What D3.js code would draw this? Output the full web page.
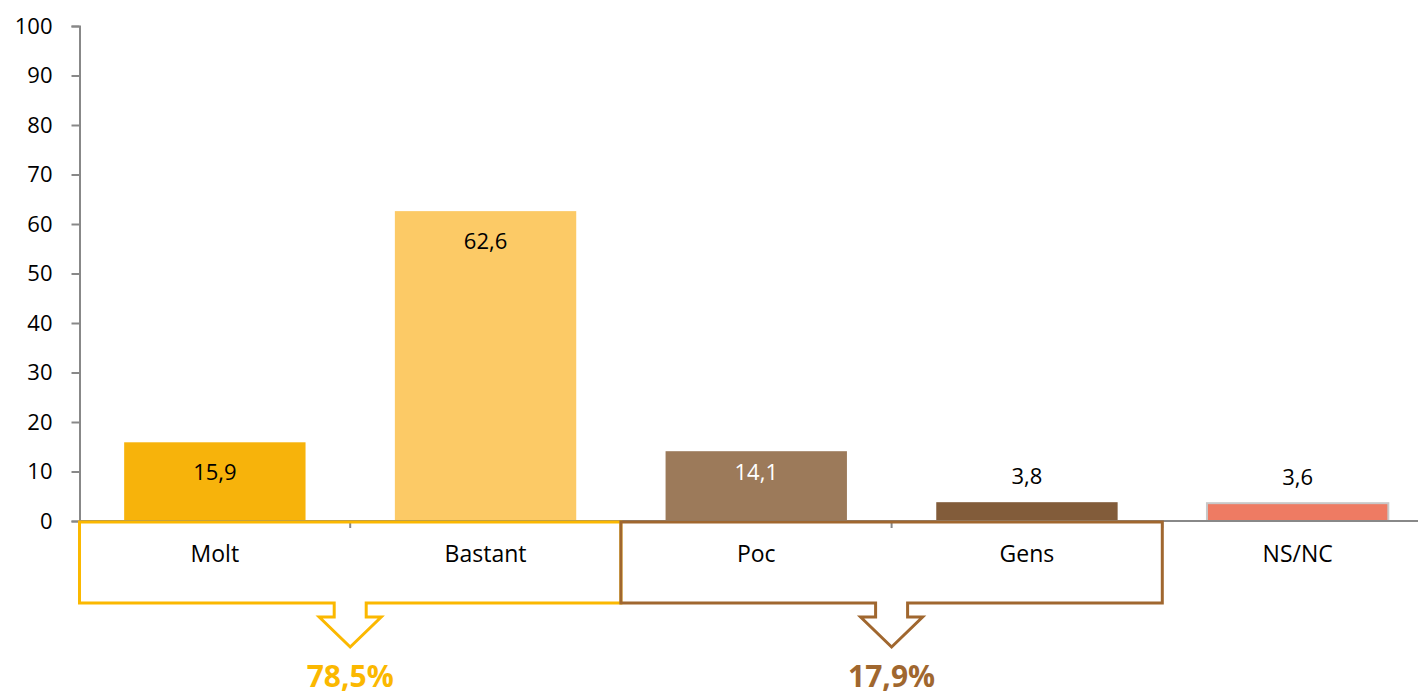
<!DOCTYPE html>
<html>
<head>
<meta charset="utf-8">
<script src="https://cdn.jsdelivr.net/npm/d3@7"></script>
<style>
  body { margin: 0; background: #fff; }
  text { font-family: "Open Sans", sans-serif; }
</style>
</head>
<body>
<script>
let w = 1418;
let h = 693;

let categories = ["Molt", "Bastant", "Poc", "Gens", "NS/NC"];
let values = [15.9, 62.6, 14.1, 3.8, 3.6];
let barColors = ["#F7B30B", "#FCCA66", "#9C7A5A", "#825C3A", "#EE7B63"];
let labelColors = ["#000", "#000", "#fff", "#000", "#000"];
let yTicks = [0, 10, 20, 30, 40, 50, 60, 70, 80, 90, 100];

let groupLabels = ["78,5%", "17,9%"];
let groupFirst = [0, 2];
let groupLast = [1, 3];
let groupColors = ["#FBB800", "#A0672F"];

let fmt = v => String(v).replace(".", ",");

// the category range runs a little past the right edge of the picture
let plotLeft = 79.5, plotRight = 1433, plotTop = 26, zeroY = 521;

let xScale = d3.scaleBand()
    .domain(categories)
    .range([plotLeft, plotRight])
    .paddingInner(0.33)
    .paddingOuter(0.165)

let yScale = d3.scaleLinear()
    .domain([0, 100])
    .range([zeroY, plotTop])

let svg = d3.select("body")
    .append("svg")
    .attr("width", w)
    .attr("height", h)

// y axis
let yAxis = svg.append("g")
    .attr("transform", `translate(${plotLeft},0)`)
    .call(d3.axisLeft(yScale).tickValues(yTicks).tickSize(8).tickPadding(19))
yAxis.select(".domain").attr("stroke", "#888").attr("stroke-width", 2)
yAxis.selectAll(".tick line").attr("stroke", "#888").attr("stroke-width", 2)
yAxis.selectAll(".tick text")
    .attr("font-size", "22px")
    .attr("fill", "#000")
    .attr("font-family", "Open Sans, sans-serif")

// bars
svg.selectAll("rect.bar")
    .data(values)
    .enter()
    .append("rect")
    .attr("class", "bar")
    .attr("x", (d, i) => xScale(categories[i]))
    .attr("y", d => yScale(d))
    .attr("width", xScale.bandwidth())
    .attr("height", d => zeroY - yScale(d))
    .attr("fill", (d, i) => barColors[i])
    .attr("stroke", (d, i) => i === 4 ? "#c8c8c8" : "none")
    .attr("stroke-width", 2)

// x axis
let step = xScale.step();
svg.append("line")
    .attr("x1", plotLeft).attr("x2", plotRight)
    .attr("y1", zeroY).attr("y2", zeroY)
    .attr("stroke", "#888").attr("stroke-width", 2)
svg.selectAll("line.xtick")
    .data(d3.range(1, categories.length))
    .enter()
    .append("line")
    .attr("class", "xtick")
    .attr("x1", i => plotLeft + i * step)
    .attr("x2", i => plotLeft + i * step)
    .attr("y1", zeroY)
    .attr("y2", zeroY + 7)
    .attr("stroke", "#888").attr("stroke-width", 2)

// value labels
svg.selectAll("text.val")
    .data(values)
    .enter()
    .append("text")
    .attr("class", "val")
    .text(d => fmt(d))
    .attr("x", (d, i) => xScale(categories[i]) + xScale.bandwidth() / 2)
    .attr("y", d => {
        let t = yScale(d);
        if (zeroY - t < 40) return t - 26;
        return Math.min(t + 30, zeroY - 49);
    })
    .attr("dy", "0.35em")
    .attr("text-anchor", "middle")
    .attr("font-size", "22px")
    .attr("fill", (d, i) => labelColors[i])

// category labels
svg.selectAll("text.cat")
    .data(categories)
    .enter()
    .append("text")
    .attr("class", "cat")
    .text(d => d)
    .attr("x", d => xScale(d) + xScale.bandwidth() / 2)
    .attr("y", 554)
    .attr("dy", "0.35em")
    .attr("text-anchor", "middle")
    .attr("font-size", "23px")
    .attr("fill", "#000")

// group brackets with arrows
let boxTop = 522, boxBottom = 603, stemHalf = 16, headHalf = 31, headY = 617, tipY = 647;
groupLabels.forEach((lab, g) => {
    let x0 = plotLeft + groupFirst[g] * step;
    let x1 = plotLeft + (groupLast[g] + 1) * step;
    let cx = (x0 + x1) / 2;
    let p = d3.path();
    p.moveTo(x0, boxTop);
    p.lineTo(x1, boxTop);
    p.lineTo(x1, boxBottom);
    p.lineTo(cx + stemHalf, boxBottom);
    p.lineTo(cx + stemHalf, headY);
    p.lineTo(cx + headHalf, headY);
    p.lineTo(cx, tipY);
    p.lineTo(cx - headHalf, headY);
    p.lineTo(cx - stemHalf, headY);
    p.lineTo(cx - stemHalf, boxBottom);
    p.lineTo(x0, boxBottom);
    p.closePath();
    svg.append("path")
        .attr("d", p.toString())
        .attr("fill", "none")
        .attr("stroke", groupColors[g])
        .attr("stroke-width", 3)
    svg.append("text")
        .text(lab)
        .attr("x", cx)
        .attr("y", 687)
        .attr("text-anchor", "middle")
        .attr("font-size", "30px")
        .attr("font-weight", "bold")
        .attr("fill", groupColors[g])
})
</script>
</body>
</html>
